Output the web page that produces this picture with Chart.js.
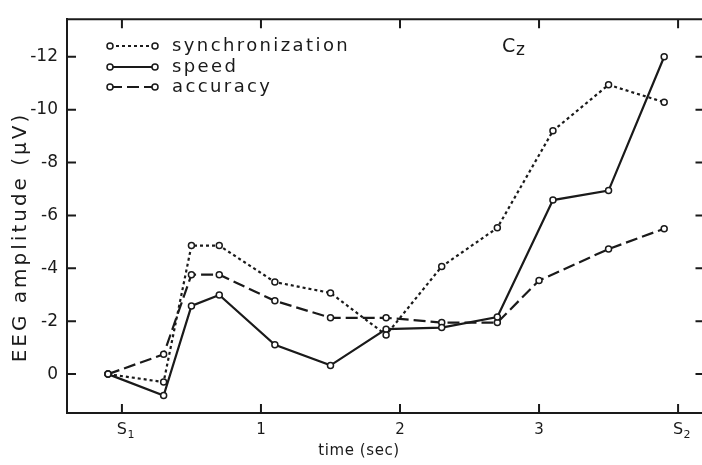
<!DOCTYPE html>
<html>
<head>
<meta charset="utf-8">
<script src="https://cdn.jsdelivr.net/npm/chart.js@4"></script>
<style>
  html, body { margin: 0; padding: 0; background: #fff; overflow: hidden; }
  #wrap { width: 710px; height: 465px; }
</style>
</head>
<body>
<div id="wrap"><canvas id="eegChart" width="710" height="465"></canvas></div>
<script>
// time points (sec), S1 = 0, S2 = 4
const times = [-0.1, 0.3, 0.5, 0.7, 1.1, 1.5, 1.9, 2.3, 2.7, 3.1, 3.5, 3.9];
const timesAccuracy = [-0.1, 0.3, 0.5, 0.7, 1.1, 1.5, 1.9, 2.3, 2.7, 3.0, 3.5, 3.9];

// EEG amplitude (uV), negative up
const synchronization = [0, 0.3, -4.86, -4.86, -3.48, -3.07, -1.48, -4.07, -5.53, -9.2, -10.94, -10.28];
const speed = [0, 0.81, -2.58, -2.99, -1.11, -0.33, -1.7, -1.76, -2.16, -6.58, -6.94, -12.0];
const accuracy = [0, -0.75, -3.76, -3.76, -2.77, -2.13, -2.13, -1.95, -1.95, -3.54, -4.73, -5.5];

const seriesNames = ['synchronization', 'speed', 'accuracy'];
const xTickValues = [0, 1, 2, 3, 4];
const xTickLabels = ['', '1', '2', '3', ''];
const stimulusTicks = [0, 4];
const stimulusNames = [['S', '1'], ['S', '2']];
const yTickValues = [-12, -10, -8, -6, -4, -2, 0];
const xTitle = 'time (sec)';
const yTitle = 'EEG amplitude (\u00b5V)';
const electrode = ['C', 'z'];

const FONT = "'DejaVu Sans', sans-serif";
const INK = '#1a1a1a';
const dashes = [[3, 3], [], [12, 5]];

function toPoints(xs, ys) {
  return xs.map((x, i) => ({ x: x, y: ys[i] }));
}

function makeDataset(label, xs, ys, dash) {
  return {
    label: label,
    data: toPoints(xs, ys),
    borderColor: INK,
    borderWidth: 2.2,
    borderDash: dash,
    pointRadius: 3,
    pointBorderWidth: 1.5,
    pointBorderColor: INK,
    pointBackgroundColor: '#fff',
    tension: 0,
    fill: false
  };
}

// frame, inward ticks, titles, legend and electrode label
const decorations = {
  id: 'decorations',
  afterDraw(chart) {
    const ctx = chart.ctx;
    const area = chart.chartArea;
    const xs = chart.scales.x;
    const ys = chart.scales.y;
    ctx.save();
    ctx.strokeStyle = INK;
    ctx.fillStyle = INK;
    ctx.lineWidth = 2;
    // top border
    ctx.beginPath();
    ctx.moveTo(area.left, area.top);
    ctx.lineTo(area.right, area.top);
    ctx.stroke();
    // x ticks, bottom and top
    xTickValues.forEach(v => {
      const px = xs.getPixelForValue(v);
      ctx.beginPath();
      ctx.moveTo(px, area.bottom);
      ctx.lineTo(px, area.bottom - 9);
      ctx.moveTo(px, area.top);
      ctx.lineTo(px, area.top + 9);
      ctx.stroke();
    });
    // y ticks, left and right
    yTickValues.forEach(v => {
      const py = ys.getPixelForValue(v);
      ctx.beginPath();
      ctx.moveTo(area.left, py);
      ctx.lineTo(area.left + 9, py);
      ctx.moveTo(area.right, py);
      ctx.lineTo(area.right - 9, py);
      ctx.stroke();
    });

    // S1 / S2 labels with subscripts
    ctx.textBaseline = 'alphabetic';
    ctx.textAlign = 'center';
    stimulusTicks.forEach((v, i) => {
      const px = xs.getPixelForValue(v);
      ctx.font = '16px ' + FONT;
      ctx.fillText(stimulusNames[i][0], px, 434);
      ctx.font = '11px ' + FONT;
      ctx.fillText(stimulusNames[i][1], px + 9, 438);
    });

    // axis titles
    ctx.font = '15px ' + FONT;
    ctx.letterSpacing = '0.6px';
    ctx.textAlign = 'center';
    ctx.textBaseline = 'middle';
    ctx.fillText(xTitle, 359, 451);

    ctx.save();
    ctx.translate(21, 237);
    ctx.rotate(-Math.PI / 2);
    ctx.font = '20px ' + FONT;
    ctx.letterSpacing = '3px';
    ctx.fillText(yTitle, 0, 0);
    ctx.restore();

    // legend
    const rows = [46, 67, 87];
    ctx.font = '18px ' + FONT;
    ctx.letterSpacing = '2.4px';
    ctx.textAlign = 'left';
    ctx.textBaseline = 'middle';
    chart.data.datasets.forEach((ds, i) => {
      const y = rows[i];
      ctx.setLineDash(dashes[i]);
      ctx.lineWidth = 2;
      ctx.beginPath();
      ctx.moveTo(110, y);
      ctx.lineTo(155, y);
      ctx.stroke();
      ctx.setLineDash([]);
      ctx.lineWidth = 1.5;
      [110, 155].forEach(cx => {
        ctx.beginPath();
        ctx.arc(cx, y, 3, 0, Math.PI * 2);
        ctx.fillStyle = '#fff';
        ctx.fill();
        ctx.stroke();
      });
      ctx.fillStyle = INK;
      ctx.fillText(ds.label, 172, y);
    });

    // electrode name
    ctx.letterSpacing = '0px';
    ctx.textBaseline = 'alphabetic';
    ctx.font = '19px ' + FONT;
    ctx.fillText(electrode[0], 502, 52);
    ctx.font = '17px ' + FONT;
    ctx.fillText(electrode[1], 516, 55);
    ctx.restore();
  }
};

function drawChart() {
  const ctx = document.getElementById('eegChart').getContext('2d');
  new Chart(ctx, {
    type: 'line',
    data: {
      datasets: [
        makeDataset(seriesNames[0], times, synchronization, dashes[0]),
        makeDataset(seriesNames[1], times, speed, dashes[1]),
        makeDataset(seriesNames[2], timesAccuracy, accuracy, dashes[2])
      ]
    },
    options: {
      responsive: false,
      animation: false,
      layout: { padding: { top: 8, right: 4, left: 0, bottom: 0 } },
      plugins: { legend: { display: false }, tooltip: { enabled: false } },
      scales: {
        x: {
          type: 'linear',
          min: -0.395,
          max: 4.19,
          grid: { display: false, drawTicks: false },
          border: { display: true, color: INK, width: 2 },
          afterBuildTicks: scale => { scale.ticks = xTickValues.map(v => ({ value: v })); },
          afterFit: scale => { scale.height = 52; },
          ticks: {
            color: INK,
            padding: 8,
            font: { family: FONT, size: 15 },
            maxRotation: 0,
            callback: (v) => xTickLabels[xTickValues.indexOf(v)]
          }
        },
        y: {
          reverse: true,
          min: -13.42,
          max: 1.47,
          grid: { display: false, drawTicks: false },
          border: { display: true, color: INK, width: 2 },
          afterBuildTicks: scale => { scale.ticks = yTickValues.map(v => ({ value: v })); },
          afterFit: scale => { scale.width = 67; },
          ticks: {
            color: INK,
            padding: 9,
            font: { family: FONT, size: 17 }
          }
        }
      }
    },
    plugins: [decorations]
  });
}

window.addEventListener('load', drawChart);
</script>
</body>
</html>
